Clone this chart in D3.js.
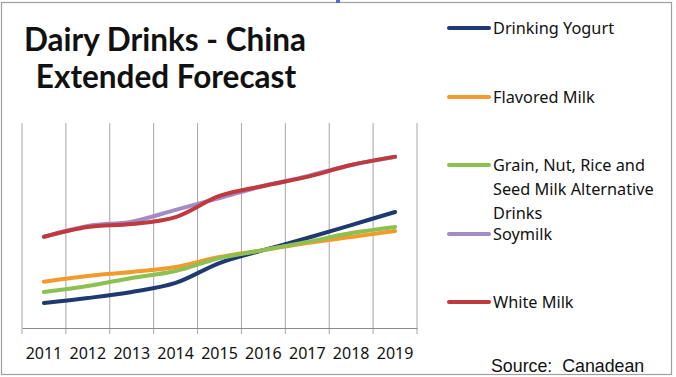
<!DOCTYPE html>
<html>
<head>
<meta charset="utf-8">
<script src="https://cdn.jsdelivr.net/npm/d3@7"></script>
<style>
  body { margin: 0; background: #fff; }
  svg text { font-family: "Noto Sans", sans-serif; fill: #111; }
</style>
</head>
<body>
<div class="chart-container"></div>
<script>
// data (no y scale shown, arbitrary units 0-100)
const years = ['2011', '2012', '2013', '2014', '2015', '2016', '2017', '2018', '2019'];
const drinkingYogurt = [12.2, 14.6, 17.6, 22.0, 31.7, 38.0, 43.9, 50.2, 56.6];
const flavoredMilk   = [22.6, 25.4, 27.3, 29.8, 34.6, 38.0, 41.5, 44.4, 47.3];
const grainNutRice   = [17.6, 20.5, 24.4, 27.8, 34.1, 38.0, 42.0, 46.3, 49.3];
const soymilk        = [44.5, 49.8, 51.9, 57.6, 63.4, 69.3, 74.1, 79.5, 83.4];
const whiteMilk      = [44.5, 49.3, 50.7, 54.1, 64.4, 69.3, 73.7, 79.5, 83.6];

const seriesNames  = ['Drinking Yogurt', 'Flavored Milk', 'Grain, Nut, Rice and Seed Milk Alternative Drinks', 'Soymilk', 'White Milk'];
const seriesValues = [drinkingYogurt, flavoredMilk, grainNutRice, soymilk, whiteMilk];
const seriesColors = ['#1f3a70', '#f39a2c', '#8cc152', '#a38bc6', '#c0393e'];
// legend labels are wrapped like the original
const legendLines  = [['Drinking Yogurt'], ['Flavored Milk'], ['Grain, Nut, Rice and', 'Seed Milk Alternative', 'Drinks'], ['Soymilk'], ['White Milk']];

const svg_width = 676, svg_height = 377;
const svg = d3.select('.chart-container').append('svg')
    .attr('width', svg_width).attr('height', svg_height);

// outer frame
svg.append('rect')
    .attr('x', 1.5).attr('y', 2.5)
    .attr('width', 670).attr('height', 372)
    .attr('fill', 'none').attr('stroke', '#a0a0a0').attr('stroke-width', 1.2);
svg.append('rect').attr('x', 336).attr('y', 0).attr('width', 4).attr('height', 3).attr('fill', '#4a6fc0');

// plot area
const plot = { left: 22, right: 417, top: 123, bottom: 328 };
const xBand = d3.scaleBand().domain(years).range([plot.left, plot.right]).padding(0);
const yScale = d3.scaleLinear([0, 100], [plot.bottom, plot.top]);
const xMid = d => xBand(d) + xBand.bandwidth() / 2;

// vertical gridlines at category boundaries
const edges = years.map(d => xBand(d)).concat([plot.right]);
svg.append('g').selectAll('line').data(edges).join('line')
    .attr('x1', d => d).attr('x2', d => d)
    .attr('y1', plot.top).attr('y2', plot.bottom + 6)
    .attr('stroke', '#a6a6a6').attr('stroke-width', 1);

// x axis
const xAxis = d3.axisBottom(xBand).tickSize(0).tickPadding(20);
const xAxisDraw = svg.append('g')
    .attr('transform', `translate(0,${plot.bottom})`)
    .call(xAxis);
xAxisDraw.select('.domain').attr('stroke', '#8c8c8c');
xAxisDraw.selectAll('text')
    .style('font-family', '"Noto Sans", sans-serif')
    .style('font-size', '16px').attr('fill', '#111');

// lines, smoothed like the original
const line = d3.line()
    .x((d, i) => xMid(years[i]))
    .y(d => yScale(d))
    .curve(d3.curveCatmullRom.alpha(0.5));
svg.append('g').selectAll('path').data(seriesValues).join('path')
    .attr('d', d => line(d))
    .attr('fill', 'none')
    .attr('stroke', (d, i) => seriesColors[i])
    .attr('stroke-width', 4)
    .attr('stroke-linecap', 'round');

// title
const header = svg.append('text')
    .attr('text-anchor', 'middle')
    .style('font-family', 'Lato, "Noto Sans", sans-serif')
    .style('font-size', '31.5px').style('font-weight', 'bold');
header.append('tspan').attr('x', 165).attr('y', 51).text('Dairy Drinks - China');
header.append('tspan').attr('x', 166).attr('y', 88).text('Extended Forecast');

// legend
const legendY = [28, 97, 165, 234, 302];
const legend = svg.append('g').selectAll('g').data(seriesNames).join('g')
    .attr('transform', (d, i) => `translate(449,${legendY[i]})`);
legend.append('line')
    .attr('x1', 0).attr('x2', 40).attr('y1', 0).attr('y2', 0)
    .attr('stroke', (d, i) => seriesColors[i])
    .attr('stroke-width', 4).attr('stroke-linecap', 'round');
legend.append('text')
    .style('font-size', '16.3px').attr('fill', '#222')
    .selectAll('tspan').data((d, i) => legendLines[i]).join('tspan')
    .attr('x', 44).attr('y', (d, j) => 6 + j * 24)
    .text(d => d);

// source
svg.append('text')
    .attr('x', 491).attr('y', 372)
    .style('font-family', '"Liberation Sans", Arial, sans-serif')
    .style('font-size', '17.8px').style('white-space', 'pre')
    .text('Source:  Canadean');
</script>
</body>
</html>
